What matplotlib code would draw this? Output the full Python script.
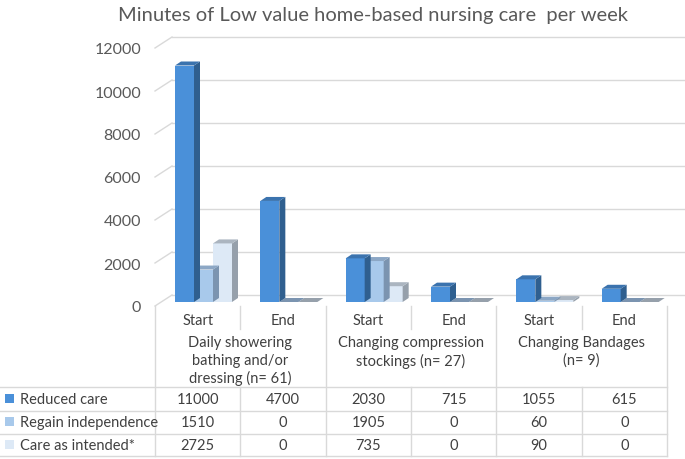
import numpy as np
import matplotlib.pyplot as plt
from matplotlib.patches import Polygon, Rectangle
from matplotlib.transforms import blended_transform_factory

plt.rcParams['font.family'] = ['Lato', 'DejaVu Sans']

# data
columns = ['Start', 'End', 'Start', 'End', 'Start', 'End']
groups = ['Daily showering\nbathing and/or\ndressing (n= 61)',
          'Changing compression\nstockings (n= 27)',
          'Changing Bandages\n(n= 9)']
series = ['Reduced care', 'Regain independence', 'Care as intended*']
reduced = [11000, 4700, 2030, 715, 1055, 615]
regain = [1510, 0, 1905, 0, 60, 0]
intended = [2725, 0, 735, 0, 90, 0]
values = [reduced, regain, intended]
yticks = [0, 2000, 4000, 6000, 8000, 10000, 12000]

front = ['#4A90D9', '#A8C9EB', '#DDE9F6']
side = ['#2F5F8F', '#7B94B0', '#96A0AB']
top = ['#3B73AE', '#8CA7C5', '#ABB5C0']

W, H = 685, 460
fig = plt.figure(figsize=(W / 100, H / 100), dpi=100)

# front plane of the plot, pixel box -> figure fraction
L, R, B, T = 155, 667, 307, 49
ax = fig.add_axes([L / W, 1 - B / H, (R - L) / W, (B - T) / H])
ax.set_xlim(0, len(columns))
ax.set_ylim(0, 12000)
for s in ax.spines.values():
    s.set_visible(False)
ax.set_xticks([])
ax.set_yticks(yticks)
ax.tick_params(axis='y', length=0, pad=10, labelsize=11.5, labelcolor='#595959')

# pixel -> data unit helpers
xpp = len(columns) / (R - L)
ypp = 12000 / (B - T)

# back wall / floor (depth offset)
bdx, bdy = 17 * xpp, 11 * ypp
grid_c = '#D9D9D9'
for v in yticks:
    ax.plot([bdx, len(columns) + bdx], [v + bdy, v + bdy], color=grid_c, lw=1, clip_on=False, zorder=0)
    ax.plot([0, bdx], [v, v + bdy], color=grid_c, lw=1, clip_on=False, zorder=0)

# bars
ddx, ddy = 6 * xpp, 4 * ypp
lift = 4 * ypp
bw = 19 * xpp
start_off = 20 * xpp
for i in range(len(columns)):
    for k in range(3):
        v = values[k][i]
        x0 = i + start_off + k * bw
        x1 = x0 + bw
        y0 = lift
        y1 = lift + v
        z = 3 + i * 3 + (2 - k) * 0.1
        if v > 0:
            ax.add_patch(Rectangle((x0, y0), bw, v, facecolor=front[k], edgecolor='none', zorder=z))
            ax.add_patch(Polygon([(x1, y0), (x1 + ddx, y0 + ddy), (x1 + ddx, y1 + ddy), (x1, y1)],
                                 facecolor=side[k], edgecolor='none', zorder=z))
        ax.add_patch(Polygon([(x0, y1), (x0 + ddx, y1 + ddy), (x1 + ddx, y1 + ddy), (x1, y1)],
                             facecolor=top[k] if v > 0 else side[k], edgecolor='none', zorder=z))

# title
fig.text(373 / W, 1 - 15 / H, 'Minutes of Low value home-based nursing care  per week',
         ha='center', va='center', fontsize=14.5, color='#595959')

# data table below
tr = blended_transform_factory(ax.transData, fig.transFigure)
def fy(p):
    return 1 - p / H

line_c = '#D9D9D9'
txt_c = '#404040'
row_lines = [388, 412, 435, 457]
row_mid = [400, 423, 446]

# verticals
for i in range(len(columns) + 1):
    if i % 2 == 0:
        ax.plot([i, i], [fy(B), fy(row_lines[-1])], transform=tr, color=line_c, lw=1, clip_on=False)
    else:
        ax.plot([i, i], [fy(B), fy(330)], transform=tr, color=line_c, lw=1, clip_on=False)
        ax.plot([i, i], [fy(row_lines[0]), fy(row_lines[-1])], transform=tr, color=line_c, lw=1, clip_on=False)

# horizontals
for p in row_lines:
    fig.add_artist(plt.Line2D([0, R / W], [fy(p), fy(p)], color=line_c, lw=1))

for i, c in enumerate(columns):
    ax.text(i + 0.5, fy(321), c, transform=tr, ha='center', va='center', fontsize=10.5, color=txt_c)
for g, name in enumerate(groups):
    ax.text(2 * g + 1, fy(336), name, transform=tr, ha='center', va='top', fontsize=10.5,
            color=txt_c, linespacing=1.32)

for k, name in enumerate(series):
    fig.patches.append(Rectangle((5 / W, fy(row_mid[k] + 4)), 9 / W, 9 / H, transform=fig.transFigure,
                                 facecolor=front[k], edgecolor='none'))
    fig.text(20 / W, fy(row_mid[k]), name, ha='left', va='center', fontsize=10.5, color=txt_c)
    for i in range(len(columns)):
        ax.text(i + 0.5, fy(row_mid[k]), str(values[k][i]), transform=tr, ha='center', va='center',
                fontsize=10.5, color=txt_c)

fig.savefig('out.png', dpi=100)
